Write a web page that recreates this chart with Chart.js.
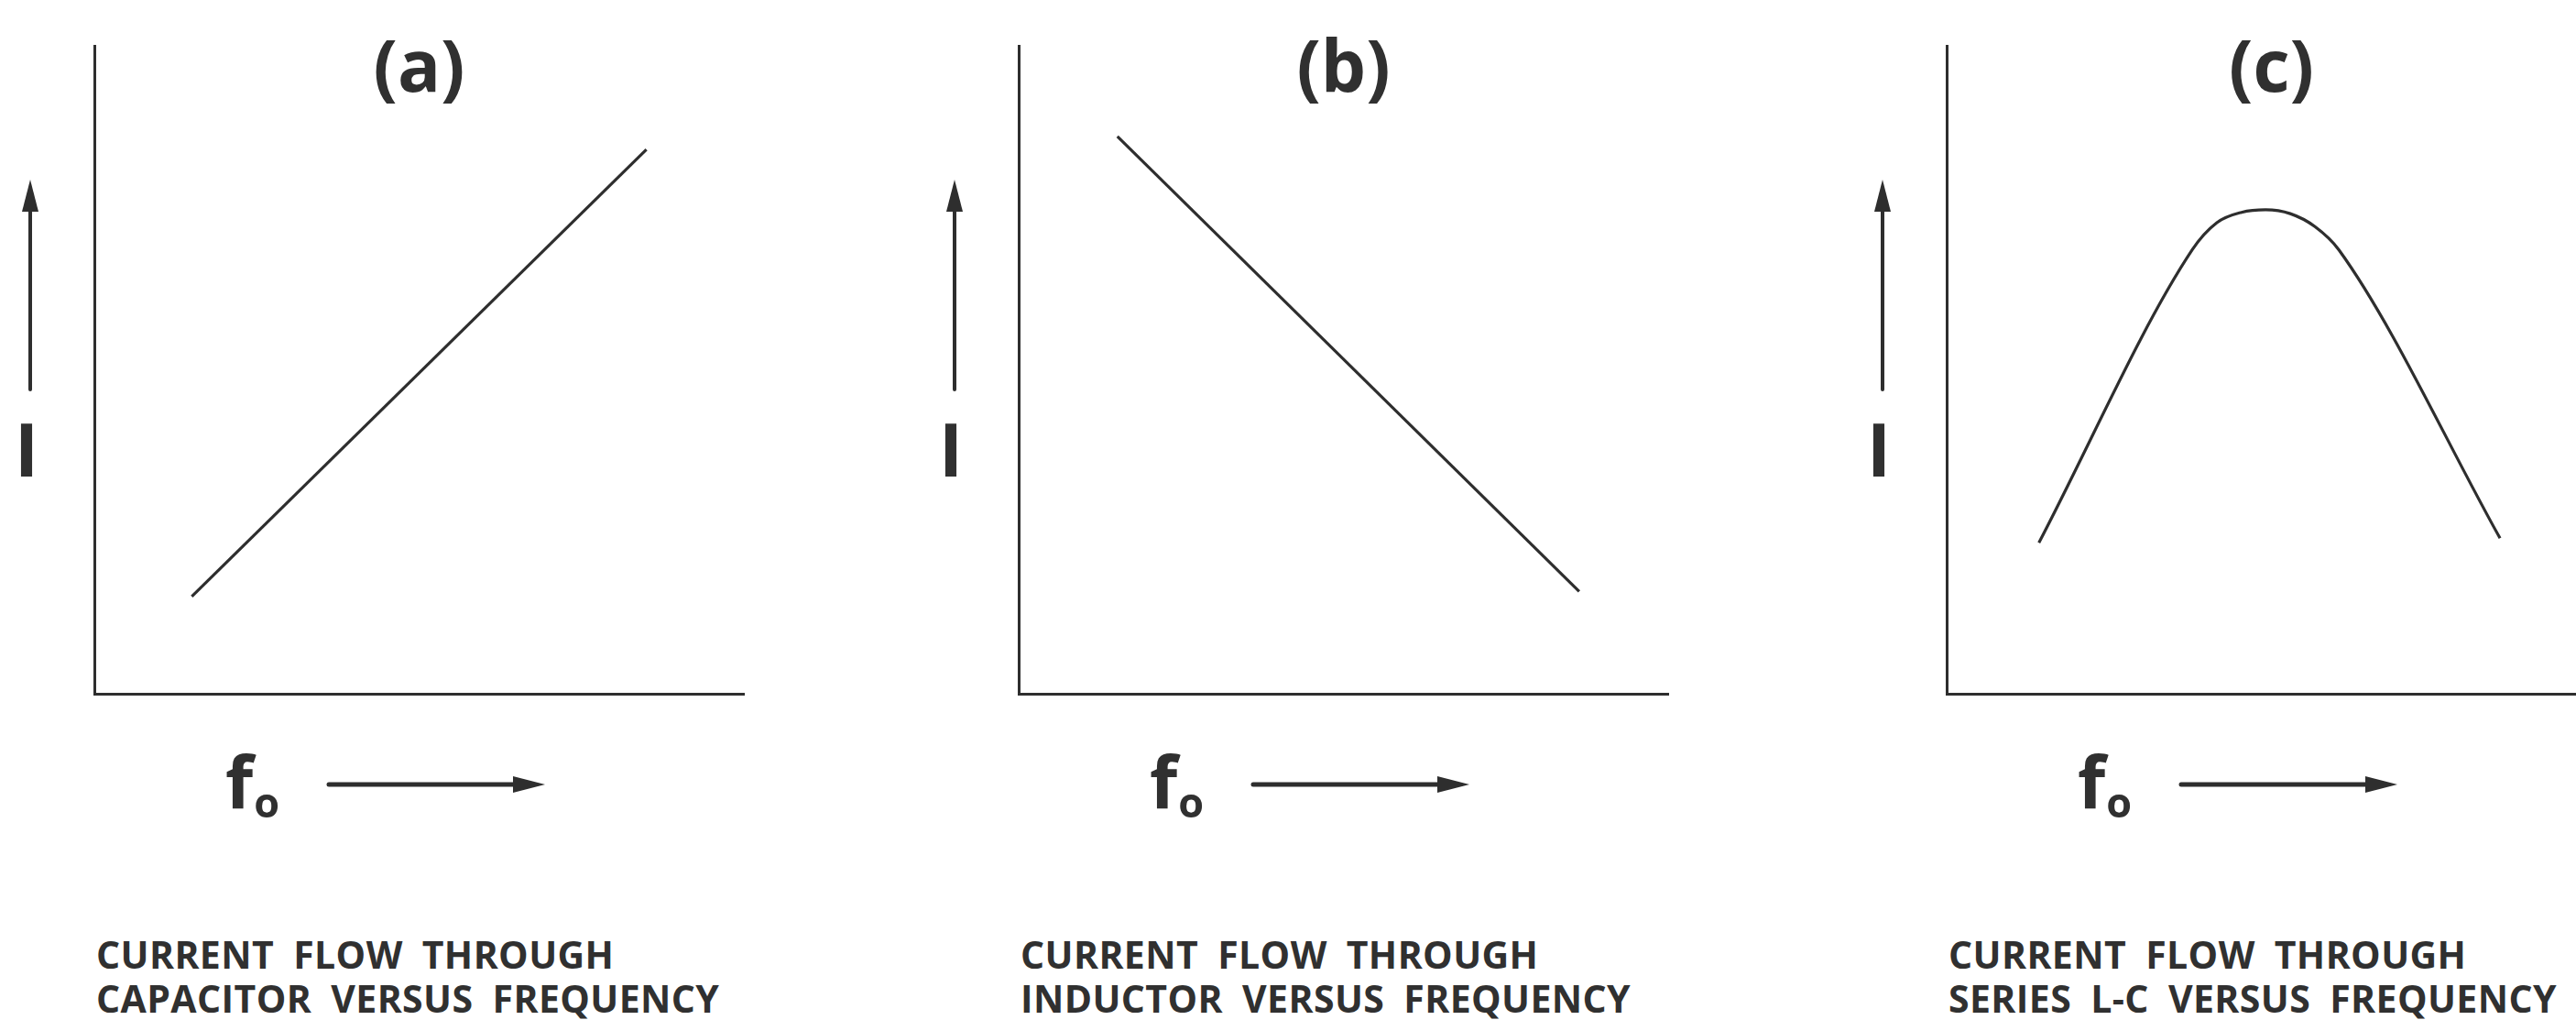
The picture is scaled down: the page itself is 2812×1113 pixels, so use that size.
<!DOCTYPE html>
<html>
<head>
<meta charset="utf-8">
<script src="https://cdn.jsdelivr.net/npm/chart.js@4.4.0/dist/chart.umd.min.js"></script>
<style>
  html, body { margin: 0; padding: 0; background: #fff; }
  body { width: 2812px; height: 1113px; position: relative; overflow: hidden; }
  canvas { position: absolute; top: 0; }
  .title, .ilabel, .fo, .caption {
    position: absolute; color: #303030; font-family: "Open Sans", sans-serif; font-weight: 700; line-height: 1;
  }
  .title { font-size: 78px; width: 300px; text-align: center; top: 31px; }
  .ilabel { font-size: 80px; width: 40px; text-align: center; top: 449px; }
  .fo { font-size: 78px; top: 813px; }
  .fo span { font-size: 45px; position: relative; top: 10px; margin-left: 1px; }
  .caption { font-size: 41px; line-height: 48px; top: 1017px; letter-spacing: 0.4px; word-spacing: 10px; white-space: nowrap; }
</style>
</head>
<body>
<script>
// x / y values (0..100 on both axes)
const capX = [15, 85];
const capY = [15, 84];
const indX = [15.2, 86.3];
const indY = [86, 15.8];
const lcX = [14.2, 37.8, 41.6, 45.4, 49.1, 52.9, 56.7, 60.4, 85.2];
const lcY = [23.3, 68.5, 72.7, 74.3, 74.7, 74.1, 72.1, 68.5, 24.0];

const panelLabels = ['(a)', '(b)', '(c)'];
const captionLines = [
  ['CURRENT FLOW THROUGH', 'CAPACITOR VERSUS FREQUENCY'],
  ['CURRENT FLOW THROUGH', 'INDUCTOR VERSUS FREQUENCY'],
  ['CURRENT FLOW THROUGH', 'SERIES L-C VERSUS FREQUENCY']
];

const INK = '#2e2e2e';
const axisLeft = [103, 1112, 2125];
const areaW = 709;

// little arrows next to the axes (I up, f0 right)
const arrowPlugin = {
  id: 'arrows',
  afterDraw(chart) {
    const { ctx, chartArea: a } = chart;
    ctx.save();
    ctx.strokeStyle = INK;
    ctx.fillStyle = INK;
    ctx.lineCap = 'round';
    // vertical arrow
    const ax = a.left - 70;
    ctx.lineWidth = 4;
    ctx.beginPath();
    ctx.moveTo(ax, a.top + 375);
    ctx.lineTo(ax, a.top + 170);
    ctx.stroke();
    ctx.beginPath();
    ctx.moveTo(ax, a.top + 146);
    ctx.lineTo(ax - 9, a.top + 181);
    ctx.lineTo(ax + 9, a.top + 181);
    ctx.closePath();
    ctx.fill();
    // horizontal arrow
    const ay = 856;
    ctx.lineWidth = 5;
    ctx.beginPath();
    ctx.moveTo(a.left + 256, ay);
    ctx.lineTo(a.left + 470, ay);
    ctx.stroke();
    ctx.beginPath();
    ctx.moveTo(a.left + 492, ay);
    ctx.lineTo(a.left + 457, ay - 9);
    ctx.lineTo(a.left + 457, ay + 9);
    ctx.closePath();
    ctx.fill();
    ctx.restore();
  }
};

function makePanel(i, xs, ys, smooth) {
  const cv = document.createElement('canvas');
  cv.width = 90 + areaW + 10;
  cv.height = 900;
  cv.style.left = (axisLeft[i] - 90) + 'px';
  document.body.appendChild(cv);

  const axisOpts = (horizontal) => ({
    type: 'linear', min: 0, max: 100,
    ticks: { display: false },
    grid: { display: false, drawTicks: false },
    border: { display: true, color: INK, width: 3 },
    afterFit(s) { if (horizontal) s.height = 0; else s.width = 0; }
  });

  new Chart(cv.getContext('2d'), {
    type: 'line',
    data: {
      datasets: [{
        data: xs.map((x, k) => ({ x: x, y: ys[k] })),
        borderColor: INK,
        borderWidth: 3.2,
        pointRadius: 0,
        fill: false,
        cubicInterpolationMode: smooth ? 'monotone' : 'default',
        tension: 0
      }]
    },
    options: {
      responsive: false,
      animation: false,
      layout: { padding: { left: 90, top: 50, right: 10, bottom: 143 } },
      plugins: { legend: { display: false }, tooltip: { enabled: false } },
      scales: { x: axisOpts(true), y: axisOpts(false) }
    },
    plugins: [arrowPlugin]
  });

  const t = document.createElement('div');
  t.className = 'title';
  t.textContent = panelLabels[i];
  t.style.left = (axisLeft[i] + areaW / 2 - 150) + 'px';
  document.body.appendChild(t);

  const il = document.createElement('div');
  il.className = 'ilabel';
  il.textContent = 'I';
  il.style.left = (axisLeft[i] - 94) + 'px';
  document.body.appendChild(il);

  const fo = document.createElement('div');
  fo.className = 'fo';
  fo.innerHTML = 'f<span>o</span>';
  fo.style.left = (axisLeft[i] + 143) + 'px';
  document.body.appendChild(fo);

  const cap = document.createElement('div');
  cap.className = 'caption';
  cap.innerHTML = captionLines[i].join('<br>');
  cap.style.left = (axisLeft[i] + 2) + 'px';
  document.body.appendChild(cap);
}

makePanel(0, capX, capY, false);
makePanel(1, indX, indY, false);
makePanel(2, lcX, lcY, true);
</script>
</body>
</html>
